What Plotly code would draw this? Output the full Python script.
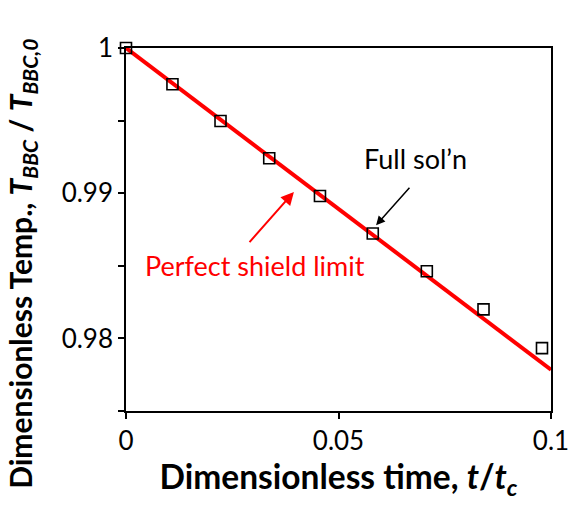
import plotly.graph_objects as go

# Full solution (open squares)
full_t = [0.0, 0.01093, 0.02224, 0.0337, 0.04564, 0.05806, 0.07078, 0.08412, 0.09788]
full_T = [1.0, 0.9975, 0.99497, 0.99241, 0.98981, 0.98722, 0.98462, 0.98200, 0.97933]

# Perfect shield limit (red line)
limit_t = [0.0, 0.1]
limit_T = [1.0, 0.97784]

x_ticks = [0, 0.05, 0.1]
x_labels = ["0", "0.05", "0.1"]
y_ticks = [0.975, 0.98, 0.985, 0.99, 0.995, 1.0]
y_labels = ["", "0.98", "", "0.99", "", "1"]

FONT = "Lato"

fig = go.Figure()
fig.add_trace(go.Scatter(x=limit_t, y=limit_T, mode="lines",
                         line=dict(color="#ff0000", width=4), showlegend=False))
fig.add_trace(go.Scatter(x=full_t, y=full_T, mode="markers",
                         marker=dict(symbol="square-open", size=11, color="black",
                                     line=dict(width=1.6, color="black")),
                         showlegend=False, cliponaxis=False))

fig.update_layout(
    width=569, height=510,
    margin=dict(l=126, r=18, t=48, b=99),
    plot_bgcolor="white", paper_bgcolor="white",
    font=dict(family=FONT, color="black", size=27),
    xaxis=dict(range=[0, 0.1], tickvals=x_ticks, ticktext=x_labels,
               ticks="outside", ticklen=6, tickwidth=1.5, tickcolor="black",
               showline=True, linecolor="black", linewidth=1.5, mirror=True,
               showgrid=False, zeroline=False, automargin=False,
               ticklabeloverflow="allow",
               tickfont=dict(size=26, family=FONT),
               title=dict(text="<b>Dimensionless time, <i>t</i>/<i>t<sub>c</sub></i></b>",
                          font=dict(size=33.5, family=FONT), standoff=8)),
    yaxis=dict(range=[0.975, 1.0], tickvals=y_ticks, ticktext=y_labels,
               ticks="outside", ticklen=6, tickwidth=1.5, tickcolor="black",
               showline=True, linecolor="black", linewidth=1.5, mirror=True,
               showgrid=False, zeroline=False, automargin=False,
               tickfont=dict(size=26, family=FONT)),
)

fig.add_annotation(x=-0.245, y=0.405, xref="paper", yref="paper", textangle=-90,
                   text="<b>Dimensionless Temp., <i>T<sub>BBC</sub></i> / <i>T<sub>BBC,0</sub></i></b>",
                   showarrow=False, xanchor="center", yanchor="middle",
                   font=dict(size=30, color="black", family=FONT))
fig.add_annotation(x=0.05884, y=0.98779, ax=0.06701, ay=0.99048,
                   xref="x", yref="y", axref="x", ayref="y",
                   showarrow=True, arrowhead=2, arrowsize=1.2, arrowwidth=1.5,
                   arrowcolor="black", text="")
fig.add_annotation(x=0.06803, y=0.99241, xref="x", yref="y", text="Full sol’n",
                   showarrow=False, font=dict(size=27, color="black", family=FONT))
fig.add_annotation(x=0.03951, y=0.99009, ax=0.02875, ay=0.98653,
                   xref="x", yref="y", axref="x", ayref="y",
                   showarrow=True, arrowhead=2, arrowsize=1.3, arrowwidth=2,
                   arrowcolor="#ff0000", text="")
fig.add_annotation(x=0.03044, y=0.98503, xref="x", yref="y", text="Perfect shield limit",
                   showarrow=False, font=dict(size=27, color="#ff0000", family=FONT))

fig.write_html("out.html")
